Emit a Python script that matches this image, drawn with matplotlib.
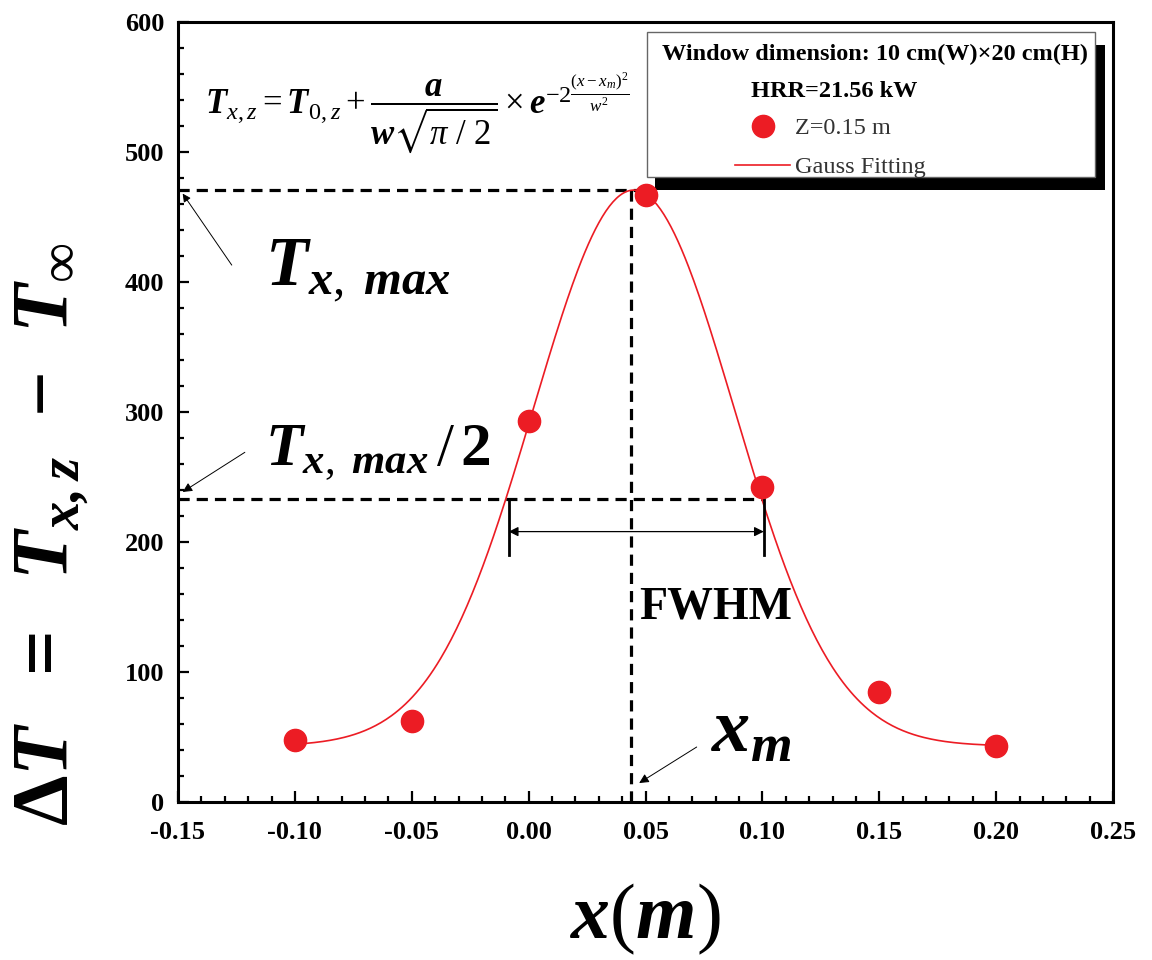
import matplotlib.pyplot as plt
import numpy as np
from matplotlib.patches import Rectangle
from matplotlib.ticker import MultipleLocator, FormatStrFormatter

plt.rcParams['font.family'] = ['Liberation Serif', 'DejaVu Serif']
plt.rcParams['axes.unicode_minus'] = False
plt.rcParams['mathtext.fontset'] = 'custom'
plt.rcParams['mathtext.rm'] = 'Liberation Serif'
plt.rcParams['mathtext.it'] = 'Liberation Serif:italic'
plt.rcParams['mathtext.bf'] = 'Liberation Serif:bold'
plt.rcParams['mathtext.bfit'] = 'Liberation Serif:italic:bold'
plt.rcParams['mathtext.fallback'] = 'stix'

# measured temperature rise, Z = 0.15 m
x_pos = [-0.10, -0.05, 0.00, 0.05, 0.10, 0.15, 0.20]
delta_t = [48, 62, 293, 467, 242, 85, 43]

# Gauss fit parameters
fit_y0 = 43.0
fit_xc = 0.045
fit_w = 0.086
fit_a = 46.1
fit_range = [-0.10, 0.20]

# construction lines
x_m = 0.044
t_max = 471
t_half = 233
peak_line_end = 0.047
fwhm_left = -0.0085
fwhm_right = 0.1006
fwhm_bar_bottom = 190
fwhm_arrow_y = 208

red = '#ec1c24'

fig = plt.figure(figsize=(11.52, 9.6), dpi=100)
ax = fig.add_axes([178 / 1152, 158 / 960, 935 / 1152, 780 / 960])

# gauss fit curve
xs = np.linspace(fit_range[0], fit_range[1], 400)
ys = fit_y0 + fit_a / (fit_w * np.sqrt(np.pi / 2)) * np.exp(-2 * (xs - fit_xc) ** 2 / fit_w ** 2)
line, = ax.plot(xs, ys, color=red, lw=1.2, zorder=3, label='Gauss Fitting')
pts, = ax.plot(x_pos, delta_t, 'o', color=red, markersize=16, zorder=5, label='Z=0.15 m')

# dashed guide lines
dash = dict(color='black', lw=2.3, linestyle=(0, (3.5, 2.2)), zorder=2)
ax.plot([-0.15, peak_line_end], [t_max, t_max], **dash)
ax.plot([x_m, x_m], [0, t_max], **dash)
ax.plot([-0.15, fwhm_right], [t_half, t_half], **dash)

# FWHM bar
ax.plot([fwhm_left, fwhm_left], [fwhm_bar_bottom, t_half], color='black', lw=2, zorder=3)
ax.plot([fwhm_right, fwhm_right], [fwhm_bar_bottom, t_half], color='black', lw=2, zorder=3)
ax.annotate('', xy=(fwhm_left, fwhm_arrow_y), xytext=(fwhm_right, fwhm_arrow_y),
            arrowprops=dict(arrowstyle='<|-|>', color='black', lw=0.9, mutation_scale=14,
                            shrinkA=0, shrinkB=0))
ax.text(0.0472, 141.5, 'FWHM', fontsize=33, fontweight='bold', va='baseline')

# annotations
ax.text(-0.1129, 398, r'$\mathbfit{T}_{\mathbfit{x},\ \mathbfit{max}}$', fontsize=50, va='baseline')
ax.annotate('', xy=(-0.148, 468), xytext=(-0.127, 413),
            arrowprops=dict(arrowstyle='-|>', color='black', lw=0.7, mutation_scale=12,
                            shrinkA=0, shrinkB=0))
ax.text(-0.1129, 259, r'$\mathbfit{T}_{\mathbfit{x},\ \mathbfit{max}}\,/\,\mathbf{2}$', fontsize=44, va='baseline')
ax.annotate('', xy=(-0.148, 238.5), xytext=(-0.1214, 269),
            arrowprops=dict(arrowstyle='-|>', color='black', lw=0.7, mutation_scale=14,
                            shrinkA=0, shrinkB=0))
ax.text(0.078, 38.5, r'$\mathbfit{x}_{\mathbfit{m}}$', fontsize=55, va='baseline')
ax.annotate('', xy=(0.0473, 14.6), xytext=(0.0719, 42.3),
            arrowprops=dict(arrowstyle='-|>', color='black', lw=0.7, mutation_scale=14,
                            shrinkA=0, shrinkB=0))

# fit equation
ax.text(-0.1385, 530,
        r'$\mathbfit{T}_{x,z} = \mathbfit{T}_{0,z} + \dfrac{\mathbfit{a}}{\mathbfit{w}\sqrt{\pi\ /\ 2}}'
        r'\times \mathbfit{e}^{-2\frac{(x-x_m)^2}{w^2}}$',
        fontsize=25, va='baseline')

# legend box with black shadow
ax.add_patch(Rectangle((0.5102, 0.7846), 0.4812, 0.1859, transform=ax.transAxes,
                       facecolor='black', edgecolor='none', zorder=4))
ax.add_patch(Rectangle((0.5016, 0.8013), 0.4791, 0.1859, transform=ax.transAxes,
                       facecolor='white', edgecolor='#666666', lw=1, zorder=4.1))
ax.text(0.7455, 0.959, 'Window dimension: 10 cm(W)×20 cm(H)', transform=ax.transAxes,
        ha='center', va='center', fontsize=17.5, fontweight='bold', zorder=6)
ax.text(0.7016, 0.9115, 'HRR=21.56 kW', transform=ax.transAxes,
        ha='center', va='center', fontsize=17.5, fontweight='bold', zorder=6)
leg = ax.legend(handles=[pts, line], loc='upper left', bbox_to_anchor=(0.596, 0.878),
                frameon=False, borderpad=0, borderaxespad=0, handlelength=2.26,
                handletextpad=0.2, labelspacing=0.7, fontsize=17.5, numpoints=1,
                labelcolor='#333333')
leg.set_zorder(6)

# axes styling
ax.set_xlim(-0.15, 0.25)
ax.set_ylim(0, 600)
ax.xaxis.set_major_locator(MultipleLocator(0.05))
ax.xaxis.set_minor_locator(MultipleLocator(0.01))
ax.yaxis.set_major_locator(MultipleLocator(100))
ax.yaxis.set_minor_locator(MultipleLocator(20))
ax.xaxis.set_major_formatter(FormatStrFormatter('%.2f'))
ax.tick_params(which='both', direction='in', top=False, right=False, width=1.6)
ax.tick_params(which='major', length=8, labelsize=19, pad=10)
ax.tick_params(axis='x', which='major', pad=14)
ax.tick_params(which='minor', length=4.5)
for lbl in ax.get_xticklabels() + ax.get_yticklabels():
    lbl.set_fontweight('bold')
for sp in ax.spines.values():
    sp.set_linewidth(2.2)

fig.text(645 / 1152, 22 / 960, r'$\mathbfit{x}(\mathbfit{m})$', fontsize=56, ha='center', va='baseline')
fig.text(0.045, 0.443,
         r'$\mathbf{\Delta}\mathbfit{T}\ \ \mathbf{=}\ \ \mathbfit{T}_{\mathbfit{x,z}}\ \ \mathbf{-}\ \ \mathbfit{T}_{\infty}$',
         fontsize=58, rotation=90, ha='center', va='center')

fig.savefig('out.png', dpi=100)
